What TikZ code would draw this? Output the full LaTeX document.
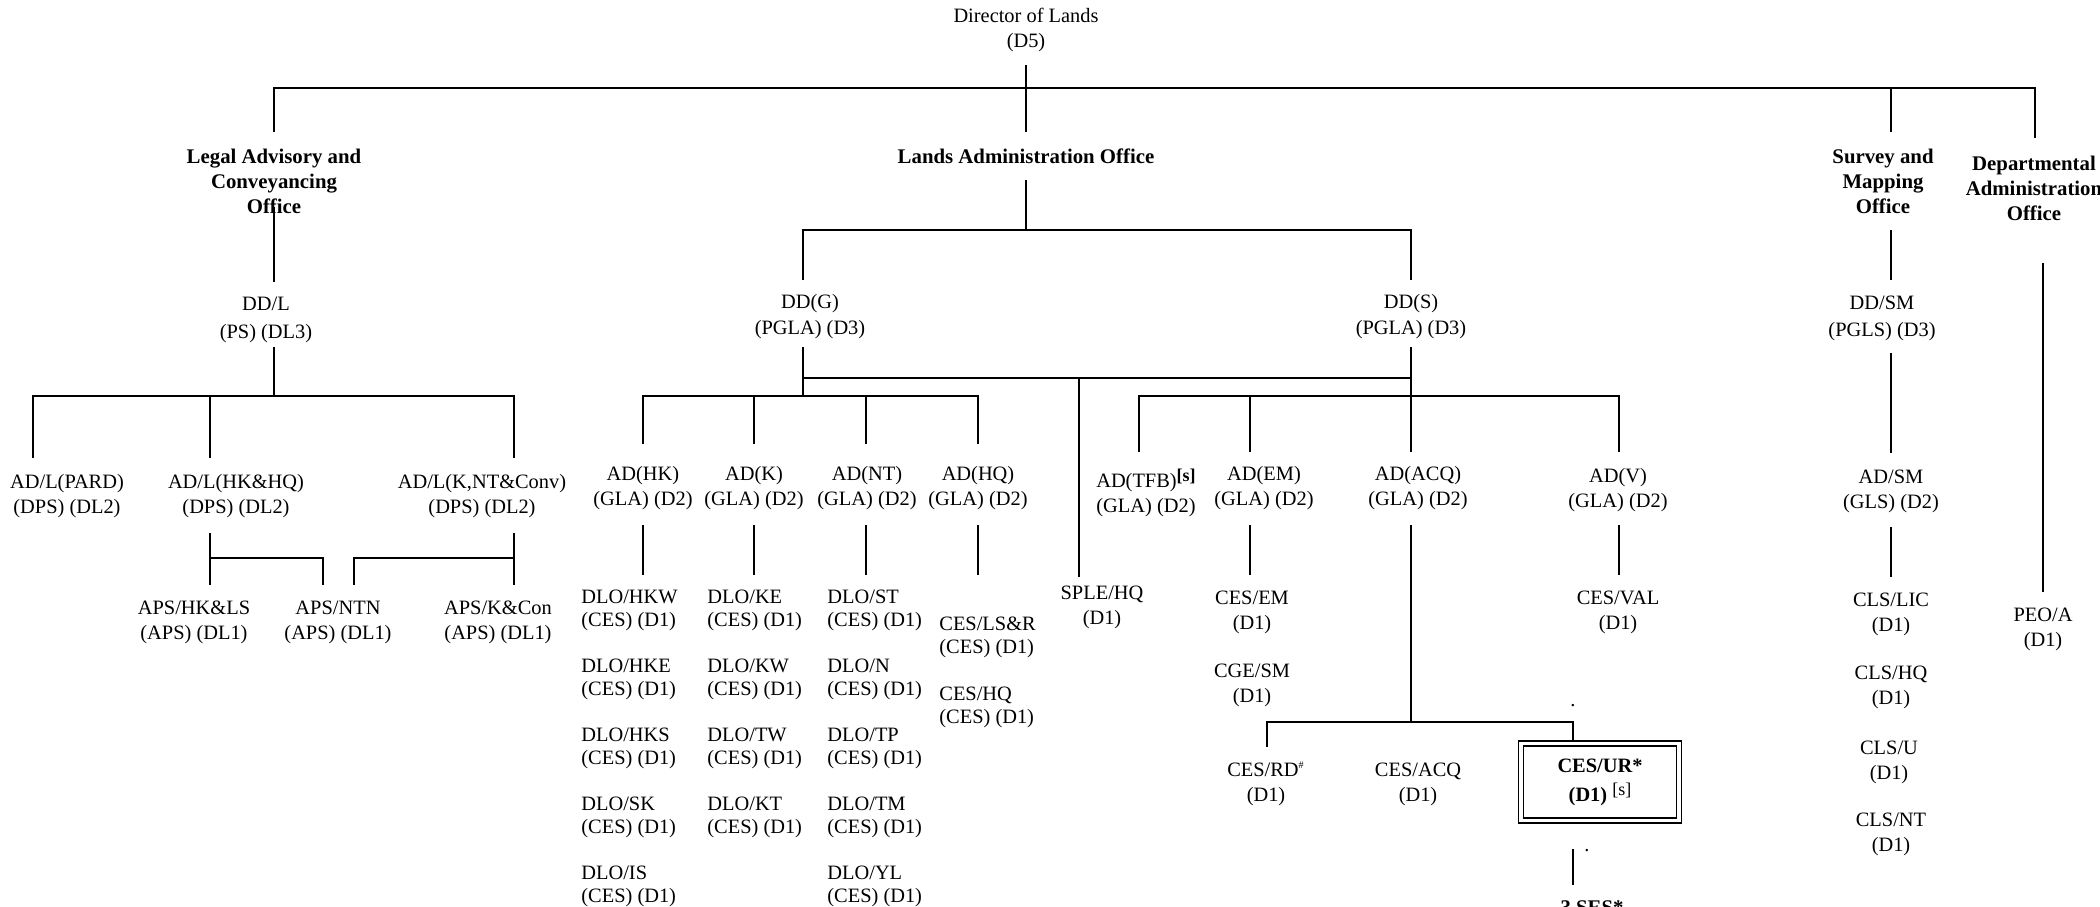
\documentclass[tikz,border=0pt]{standalone}
\usepackage{fontspec}
\setmainfont{Liberation Serif}
\begin{document}
\begin{tikzpicture}[x=0.5pt, y=-0.5pt]
    % Estilo para los cargos
    \tikzstyle{post_style} = [align=center, inner sep=0pt, font=\fontsize{10.2}{12.5}\selectfont]
    % Estilo para las oficinas
    \tikzstyle{office_style} = [align=center, inner sep=0pt, font=\fontsize{10.4}{12.5}\selectfont\bfseries]
    % Estilo para las listas de cargos
    \tikzstyle{list_style} = [anchor=west, align=left, inner sep=0pt, font=\fontsize{10.2}{11.5}\selectfont]
    % Estilo para las lineas
    \tikzstyle{edge_style} = [-, line width=0.8pt, draw=black]
    % Estilo para el recuadro doble
    \tikzstyle{box_style} = [post_style, draw, double, line width=0.8pt, double distance=1.6pt, minimum width=79pt, minimum height=38.5pt]

    \useasboundingbox (0,0) rectangle (2100,906);

    % Director y oficinas
    \node[post_style] (dir) at (1026,30) {Director of Lands\\(D5)};
    \node[office_style] (lac) at (274,181) {Legal Advisory and\\Conveyancing\\Office};
    \node[office_style] (lao) at (1026,156) {Lands Administration Office};
    \node[office_style] (smo) at (1883,181) {Survey and\\Mapping\\Office};
    \node[office_style] (dao) at (2034,188) {Departmental\\Administration\\Office};

    % Subdirectores
    \node[post_style] (ddl) at (266,320) {DD/L\\[1.5pt](PS) (DL3)};
    \node[post_style] (ddg) at (810,317) {DD(G)\\[0.5pt](PGLA) (D3)};
    \node[post_style] (dds) at (1411,317) {DD(S)\\[0.5pt](PGLA) (D3)};
    \node[post_style] (ddsm) at (1882,318) {DD/SM\\[1pt](PGLS) (D3)};

    % Oficina juridica
    \node[post_style] (adlp) at (67,496) {AD/L(PARD)\\(DPS) (DL2)};
    \node[post_style] (adlh) at (236,496) {AD/L(HK\&HQ)\\(DPS) (DL2)};
    \node[post_style] (adlk) at (482,496) {AD/L(K,NT\&Conv)\\(DPS) (DL2)};
    \node[post_style] (apsh) at (194,622) {APS/HK\&LS\\(APS) (DL1)};
    \node[post_style] (apsn) at (338,622) {APS/NTN\\(APS) (DL1)};
    \node[post_style] (apsk) at (498,622) {APS/K\&Con\\(APS) (DL1)};

    % Directores adjuntos
    \node[post_style] (adhk) at (643,488) {AD(HK)\\(GLA) (D2)};
    \node[post_style] (adk) at (754,488) {AD(K)\\(GLA) (D2)};
    \node[post_style] (adnt) at (867,488) {AD(NT)\\(GLA) (D2)};
    \node[post_style] (adhq) at (978,488) {AD(HQ)\\(GLA) (D2)};
    \node[post_style] (adtfb) at (1146,493) {AD(TFB)\raisebox{3pt}{\fontsize{9}{9}\selectfont\textbf{[s]}}\\(GLA) (D2)};
    \node[post_style] (adem) at (1264,488) {AD(EM)\\(GLA) (D2)};
    \node[post_style] (adacq) at (1418,488) {AD(ACQ)\\(GLA) (D2)};
    \node[post_style] (adv) at (1618,490) {AD(V)\\(GLA) (D2)};
    \node[post_style] (adsm) at (1891,491) {AD/SM\\(GLS) (D2)};

    % Oficinas de distrito (HK)
    \node[list_style] (dlohkw) at (581,610) {DLO/HKW\\(CES) (D1)};
    \node[list_style] (dlohke) at (581,679) {DLO/HKE\\(CES) (D1)};
    \node[list_style] (dlohks) at (581,748) {DLO/HKS\\(CES) (D1)};
    \node[list_style] (dlosk) at (581,817) {DLO/SK\\(CES) (D1)};
    \node[list_style] (dlois) at (581,886) {DLO/IS\\(CES) (D1)};
    % Oficinas de distrito (K)
    \node[list_style] (dloke) at (707,610) {DLO/KE\\(CES) (D1)};
    \node[list_style] (dlokw) at (707,679) {DLO/KW\\(CES) (D1)};
    \node[list_style] (dlotw) at (707,748) {DLO/TW\\(CES) (D1)};
    \node[list_style] (dlokt) at (707,817) {DLO/KT\\(CES) (D1)};
    % Oficinas de distrito (NT)
    \node[list_style] (dlost) at (827,610) {DLO/ST\\(CES) (D1)};
    \node[list_style] (dlon) at (827,679) {DLO/N\\(CES) (D1)};
    \node[list_style] (dlotp) at (827,748) {DLO/TP\\(CES) (D1)};
    \node[list_style] (dlotm) at (827,817) {DLO/TM\\(CES) (D1)};
    \node[list_style] (dloyl) at (827,886) {DLO/YL\\(CES) (D1)};
    % HQ
    \node[list_style] (ceslsr) at (939,637) {CES/LS\&R\\(CES) (D1)};
    \node[list_style] (ceshq) at (939,707) {CES/HQ\\(CES) (D1)};

    % Resto de cargos D1
    \node[post_style] (sple) at (1102,607) {SPLE/HQ\\(D1)};
    \node[post_style] (cesem) at (1252,612) {CES/EM\\(D1)};
    \node[post_style] (cgesm) at (1252,685) {CGE/SM\\(D1)};
    \node[post_style] (cesval) at (1618,612) {CES/VAL\\(D1)};
    \node[post_style] (clslic) at (1891,614) {CLS/LIC\\(D1)};
    \node[post_style] (clshq) at (1891,687) {CLS/HQ\\(D1)};
    \node[post_style] (clsu) at (1889,762) {CLS/U\\(D1)};
    \node[post_style] (clsnt) at (1891,834) {CLS/NT\\(D1)};
    \node[post_style] (peoa) at (2043,629) {PEO/A\\(D1)};
    \node[post_style] (cesrd) at (1266,784) {CES/RD\textsuperscript{\tiny\#}\\(D1)};
    \node[post_style] (cesacq) at (1418,784) {CES/ACQ\\(D1)};
    \node[box_style] (cesur) at (1600,782) {\textbf{CES/UR*}\\[2pt]\textbf{(D1)} \raisebox{3pt}{\fontsize{9}{9}\selectfont[s]}};
    \node[office_style, anchor=base] (ses) at (1592,914) {3 SES*};
    \node[post_style, anchor=base] (dot_a) at (1573,706) {.};
    \node[post_style, anchor=base] (dot_b) at (1587,851) {.};

    % Coordenadas de las lineas
    \coordinate (dir_s) at (1026,65);
    \coordinate (lao_n) at (1026,132);
    \coordinate (top_bus) at (1026,88);
    \coordinate (lac_n) at (274,132);
    \coordinate (smo_n) at (1891,132);
    \coordinate (dao_n) at (2035,138);

    \coordinate (lac_s) at (274,207);
    \coordinate (ddl_n) at (274,282);
    \coordinate (ddl_s) at (274,347);
    \coordinate (l_bus) at (274,396);
    \coordinate (adlp_n) at (33,458);
    \coordinate (adlh_n) at (210,458);
    \coordinate (adlk_n) at (514,458);
    \coordinate (adlh_s) at (210,533);
    \coordinate (apsh_n) at (210,585);
    \coordinate (adlk_s) at (514,533);
    \coordinate (apsk_n) at (514,585);
    \coordinate (apsn_a) at (323,585);
    \coordinate (apsn_b) at (354,585);
    \coordinate (aps_bus) at (210,558);

    \coordinate (lao_s) at (1026,180);
    \coordinate (dd_bus) at (1026,230);
    \coordinate (ddg_n) at (803,280);
    \coordinate (dds_n) at (1411,280);
    \coordinate (ddg_s) at (803,347);
    \coordinate (dds_s) at (1411,347);
    \coordinate (gs_bus) at (803,378);
    \coordinate (g_bus) at (803,396);
    \coordinate (s_bus) at (1411,396);
    \coordinate (adhk_n) at (643,444);
    \coordinate (adk_n) at (754,444);
    \coordinate (adnt_n) at (866,444);
    \coordinate (adhq_n) at (978,444);
    \coordinate (adtfb_n) at (1139,452);
    \coordinate (adem_n) at (1250,452);
    \coordinate (adacq_n) at (1411,452);
    \coordinate (adv_n) at (1619,452);
    \coordinate (sple_n) at (1079,577);

    \coordinate (adhk_s) at (643,525);
    \coordinate (hk_list) at (643,575);
    \coordinate (adk_s) at (754,525);
    \coordinate (k_list) at (754,575);
    \coordinate (adnt_s) at (866,525);
    \coordinate (nt_list) at (866,575);
    \coordinate (adhq_s) at (978,525);
    \coordinate (hq_list) at (978,575);
    \coordinate (adem_s) at (1250,525);
    \coordinate (cesem_n) at (1250,575);
    \coordinate (adv_s) at (1619,525);
    \coordinate (cesval_n) at (1619,575);
    \coordinate (adacq_s) at (1411,525);
    \coordinate (acq_bus) at (1411,722);
    \coordinate (cesrd_n) at (1267,747);
    \coordinate (cesur_n) at (1573,742);
    \coordinate (cesur_s) at (1573,849);
    \coordinate (ses_n) at (1573,885);

    \coordinate (smo_s) at (1891,230);
    \coordinate (ddsm_n) at (1891,280);
    \coordinate (ddsm_s) at (1891,353);
    \coordinate (adsm_n) at (1891,453);
    \coordinate (adsm_s) at (1891,527);
    \coordinate (clslic_n) at (1891,577);
    \coordinate (dao_s) at (2043,263);
    \coordinate (peoa_n) at (2043,592);

    % Conexiones principales
    \draw[edge_style] (lac_n) |- (top_bus) -| (dao_n);
    \draw[edge_style] (dir_s) -- (lao_n);
    \draw[edge_style] (smo_n) -- (smo_n |- top_bus);

    % Oficina juridica
    \draw[edge_style] (lac_s) -- (ddl_n);
    \draw[edge_style] (ddl_s) -- (l_bus);
    \draw[edge_style] (adlp_n) |- (l_bus) -| (adlk_n);
    \draw[edge_style] (adlh_n) -- (adlh_n |- l_bus);
    \draw[edge_style] (adlh_s) -- (apsh_n);
    \draw[edge_style] (aps_bus) -| (apsn_a);
    \draw[edge_style] (adlk_s) -- (apsk_n);
    \draw[edge_style] (adlk_s |- aps_bus) -| (apsn_b);

    % Oficina de administracion
    \draw[edge_style] (lao_s) -- (dd_bus);
    \draw[edge_style] (ddg_n) |- (dd_bus) -| (dds_n);
    \draw[edge_style] (ddg_s) -- (g_bus);
    \draw[edge_style] (gs_bus) -- (gs_bus -| dds_s);
    \draw[edge_style] (sple_n) -- (sple_n |- gs_bus);
    \draw[edge_style] (adhk_n) |- (g_bus) -| (adhq_n);
    \draw[edge_style] (adk_n) -- (adk_n |- g_bus);
    \draw[edge_style] (adnt_n) -- (adnt_n |- g_bus);
    \draw[edge_style] (dds_s) -- (adacq_n);
    \draw[edge_style] (adtfb_n) |- (s_bus) -| (adv_n);
    \draw[edge_style] (adem_n) -- (adem_n |- s_bus);

    \draw[edge_style] (adhk_s) -- (hk_list);
    \draw[edge_style] (adk_s) -- (k_list);
    \draw[edge_style] (adnt_s) -- (nt_list);
    \draw[edge_style] (adhq_s) -- (hq_list);
    \draw[edge_style] (adem_s) -- (cesem_n);
    \draw[edge_style] (adv_s) -- (cesval_n);
    \draw[edge_style] (adacq_s) -- (acq_bus);
    \draw[edge_style] (cesrd_n) |- (acq_bus) -| (cesur_n);
    \draw[edge_style] (cesur_s) -- (ses_n);

    % Oficina de agrimensura y oficina departamental
    \draw[edge_style] (smo_s) -- (ddsm_n);
    \draw[edge_style] (ddsm_s) -- (adsm_n);
    \draw[edge_style] (adsm_s) -- (clslic_n);
    \draw[edge_style] (dao_s) -- (peoa_n);

\end{tikzpicture}
\end{document}
